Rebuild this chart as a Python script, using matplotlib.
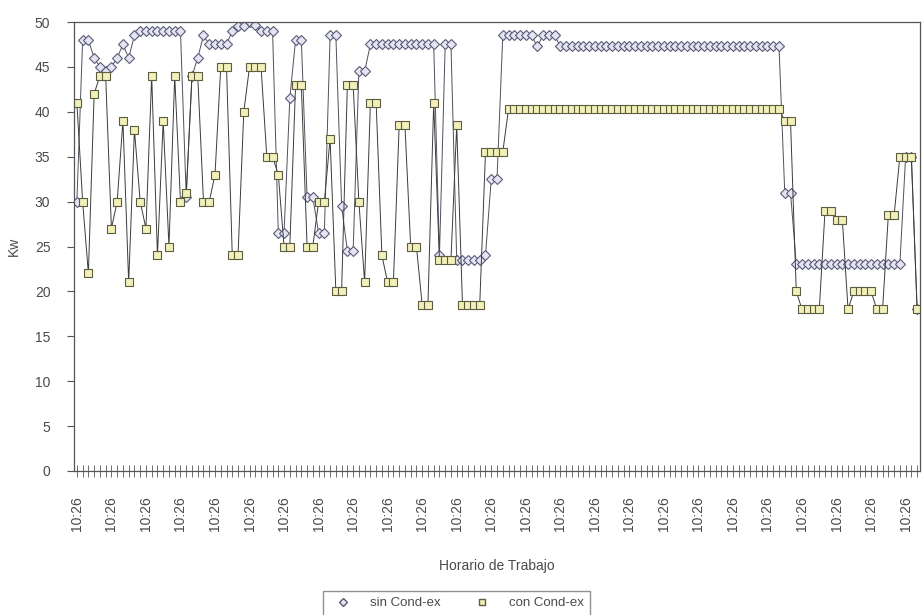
import matplotlib
matplotlib.use("Agg")
import matplotlib.pyplot as plt
from matplotlib.lines import Line2D

plt.rcParams['font.family'] = ['Liberation Sans', 'DejaVu Sans']

# === DATA (Kw) ===
sin_cond = ([30, 48, 48, 46, 45, 44.5, 45, 46, 47.5, 46, 48.5]
            + [49] * 8
            + [30.5, 44, 46, 48.5, 47.5, 47.5, 47.5, 47.5, 49, 49.5, 49.5, 50, 49.7, 49, 49, 49]
            + [26.5, 26.5, 41.5, 48, 48, 30.5, 30.5, 26.5, 26.5, 48.5, 48.5, 29.5, 24.5, 24.5, 44.5, 44.5]
            + [47.5] * 12
            + [24, 47.5, 47.5]
            + [23.5] * 5
            + [24, 32.5, 32.5]
            + [48.5] * 6
            + [47.3, 48.5, 48.5, 48.5]
            + [47.3] * 39
            + [31, 31]
            + [23] * 19
            + [35, 35, 18])

con_cond = ([41, 30, 22, 42, 44, 44, 27, 30, 39, 21, 38, 30, 27, 44, 24, 39, 25, 44, 30, 31,
             44, 44, 30, 30, 33, 45, 45, 24, 24, 40, 45, 45, 45, 35, 35, 33, 25, 25, 43, 43,
             25, 25, 30, 30, 37, 20, 20, 43, 43, 30, 21, 41, 41, 24, 21, 21, 38.5, 38.5, 25, 25,
             18.5, 18.5, 41, 23.5, 23.5, 23.5, 38.5, 18.5, 18.5, 18.5, 18.5, 35.5, 35.5, 35.5, 35.5]
            + [40.3] * 48
            + [39, 39, 20, 18, 18, 18, 18, 29, 29, 28, 28, 18, 20, 20, 20, 20, 18, 18,
               28.5, 28.5, 35, 35, 35, 18])

horario = ['10:26'] * len(sin_cond)
etiqueta_cada = 6

x = list(range(len(sin_cond)))
txt = '#4a4a4a'

fig = plt.figure(figsize=(9.23, 6.15), dpi=100)
ax = fig.add_axes([74 / 923, 144 / 615, 846 / 923, 449 / 615])

ax.plot(x, sin_cond, color='#50505e', lw=0.7, marker='D', markersize=5,
        markerfacecolor='#e4e4f2', markeredgecolor='#5a5a78', markeredgewidth=0.8)
ax.plot(x, con_cond, color='#3c3c3c', lw=0.7, marker='s', markersize=6,
        markerfacecolor='#f2f0b8', markeredgecolor='#5c5c40', markeredgewidth=0.8)

ax.set_xlim(-0.5, len(x) - 0.5)
ax.set_ylim(0, 50)
ax.set_yticks(range(0, 51, 5))
ax.set_xticks(x)
ax.set_xticklabels([h if i % etiqueta_cada == 0 else '' for i, h in enumerate(horario)],
                   rotation=90, fontsize=10, color=txt)
ax.tick_params(axis='x', direction='inout', length=8, width=0.6, color='#555555', pad=14)
ax.tick_params(axis='y', direction='out', length=5, width=0.8, color='#555555',
               labelsize=10, labelcolor=txt, pad=12)

for s in ax.spines.values():
    s.set_color('#555555')
    s.set_linewidth(0.9)

ax.set_ylabel('Kw', fontsize=10, color=txt, labelpad=10)
ax.set_xlabel('Horario de Trabajo', fontsize=10, color=txt, labelpad=20)

handles = [
    Line2D([], [], ls='none', marker='D', markersize=4, markerfacecolor='#e4e4f2',
           markeredgecolor='#5a5a78', label='sin Cond-ex'),
    Line2D([], [], ls='none', marker='s', markersize=5, markerfacecolor='#f2f0b8',
           markeredgecolor='#5c5c40', label='con Cond-ex'),
]
leg = fig.legend(handles=handles, loc='lower center', bbox_to_anchor=(0.495, -0.008), ncol=2,
                 fontsize=9.5, frameon=True, fancybox=False, edgecolor='#777777',
                 handletextpad=1.0, columnspacing=2.2, borderpad=0.5, borderaxespad=0.3)
for t in leg.get_texts():
    t.set_color(txt)

fig.savefig('out.png', dpi=100)
